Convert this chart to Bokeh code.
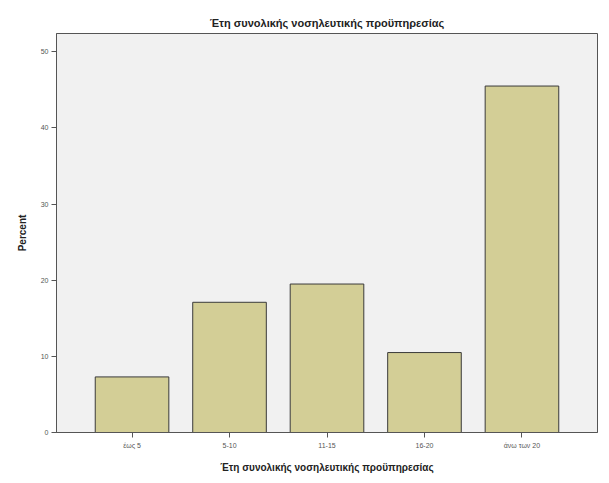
from bokeh.plotting import figure
from bokeh.models import FactorRange, Range1d, FixedTicker, ColumnDataSource
from bokeh.embed import file_html
from bokeh.resources import INLINE

categories = ["έως 5", "5-10", "11-15", "16-20", "άνω των 20"]
percent = [7.3, 17.1, 19.5, 10.5, 45.5]
y_ticks = [0, 10, 20, 30, 40, 50]

title_text = "Έτη συνολικής νοσηλευτικής προϋπηρεσίας"
FONT = "Liberation Sans"

src = ColumnDataSource(dict(cat=categories, val=percent))

p = figure(
    x_range=FactorRange(factors=categories, range_padding=0.11),
    y_range=Range1d(0, 52.4),
    width=601, height=475,
    output_backend="svg", toolbar_location=None,
    min_border_left=56, min_border_right=4, min_border_top=33, min_border_bottom=40,
)

p.vbar(x="cat", top="val", width=0.755, source=src,
       fill_color="#D3CE96", line_color="#3a3a3a", line_width=1)

p.title.text = title_text
p.title.align = "center"
p.title.text_font = FONT
p.title.text_font_size = "11px"
p.title.text_font_style = "bold"
p.title.text_color = "#222222"
p.title.offset = 0
p.title.standoff = 9

p.background_fill_color = "#F1F1F1"
p.border_fill_color = "white"
p.outline_line_color = "#555555"
p.outline_line_width = 1
p.grid.visible = False

p.yaxis.ticker = FixedTicker(ticks=y_ticks)
p.yaxis.minor_tick_line_color = None
p.yaxis.axis_label = "Percent"
p.xaxis.axis_label = title_text

for ax in (p.xaxis, p.yaxis):
    ax.axis_line_color = "#555555"
    ax.major_tick_line_color = "#555555"
    ax.major_tick_out = 5
    ax.major_tick_in = 0
    ax.major_label_text_font = FONT
    ax.major_label_text_font_size = "7px"
    ax.major_label_text_color = "#555555"
    ax.axis_label_text_font = FONT
    ax.axis_label_text_font_size = "10px"
    ax.axis_label_text_font_style = "bold"
    ax.axis_label_text_color = "#222222"

p.xaxis.major_label_standoff = 4
p.xaxis.axis_label_standoff = 10
p.yaxis.major_label_standoff = 3
p.yaxis.axis_label_standoff = 10

open("out.html", "w").write(file_html(p, INLINE))
